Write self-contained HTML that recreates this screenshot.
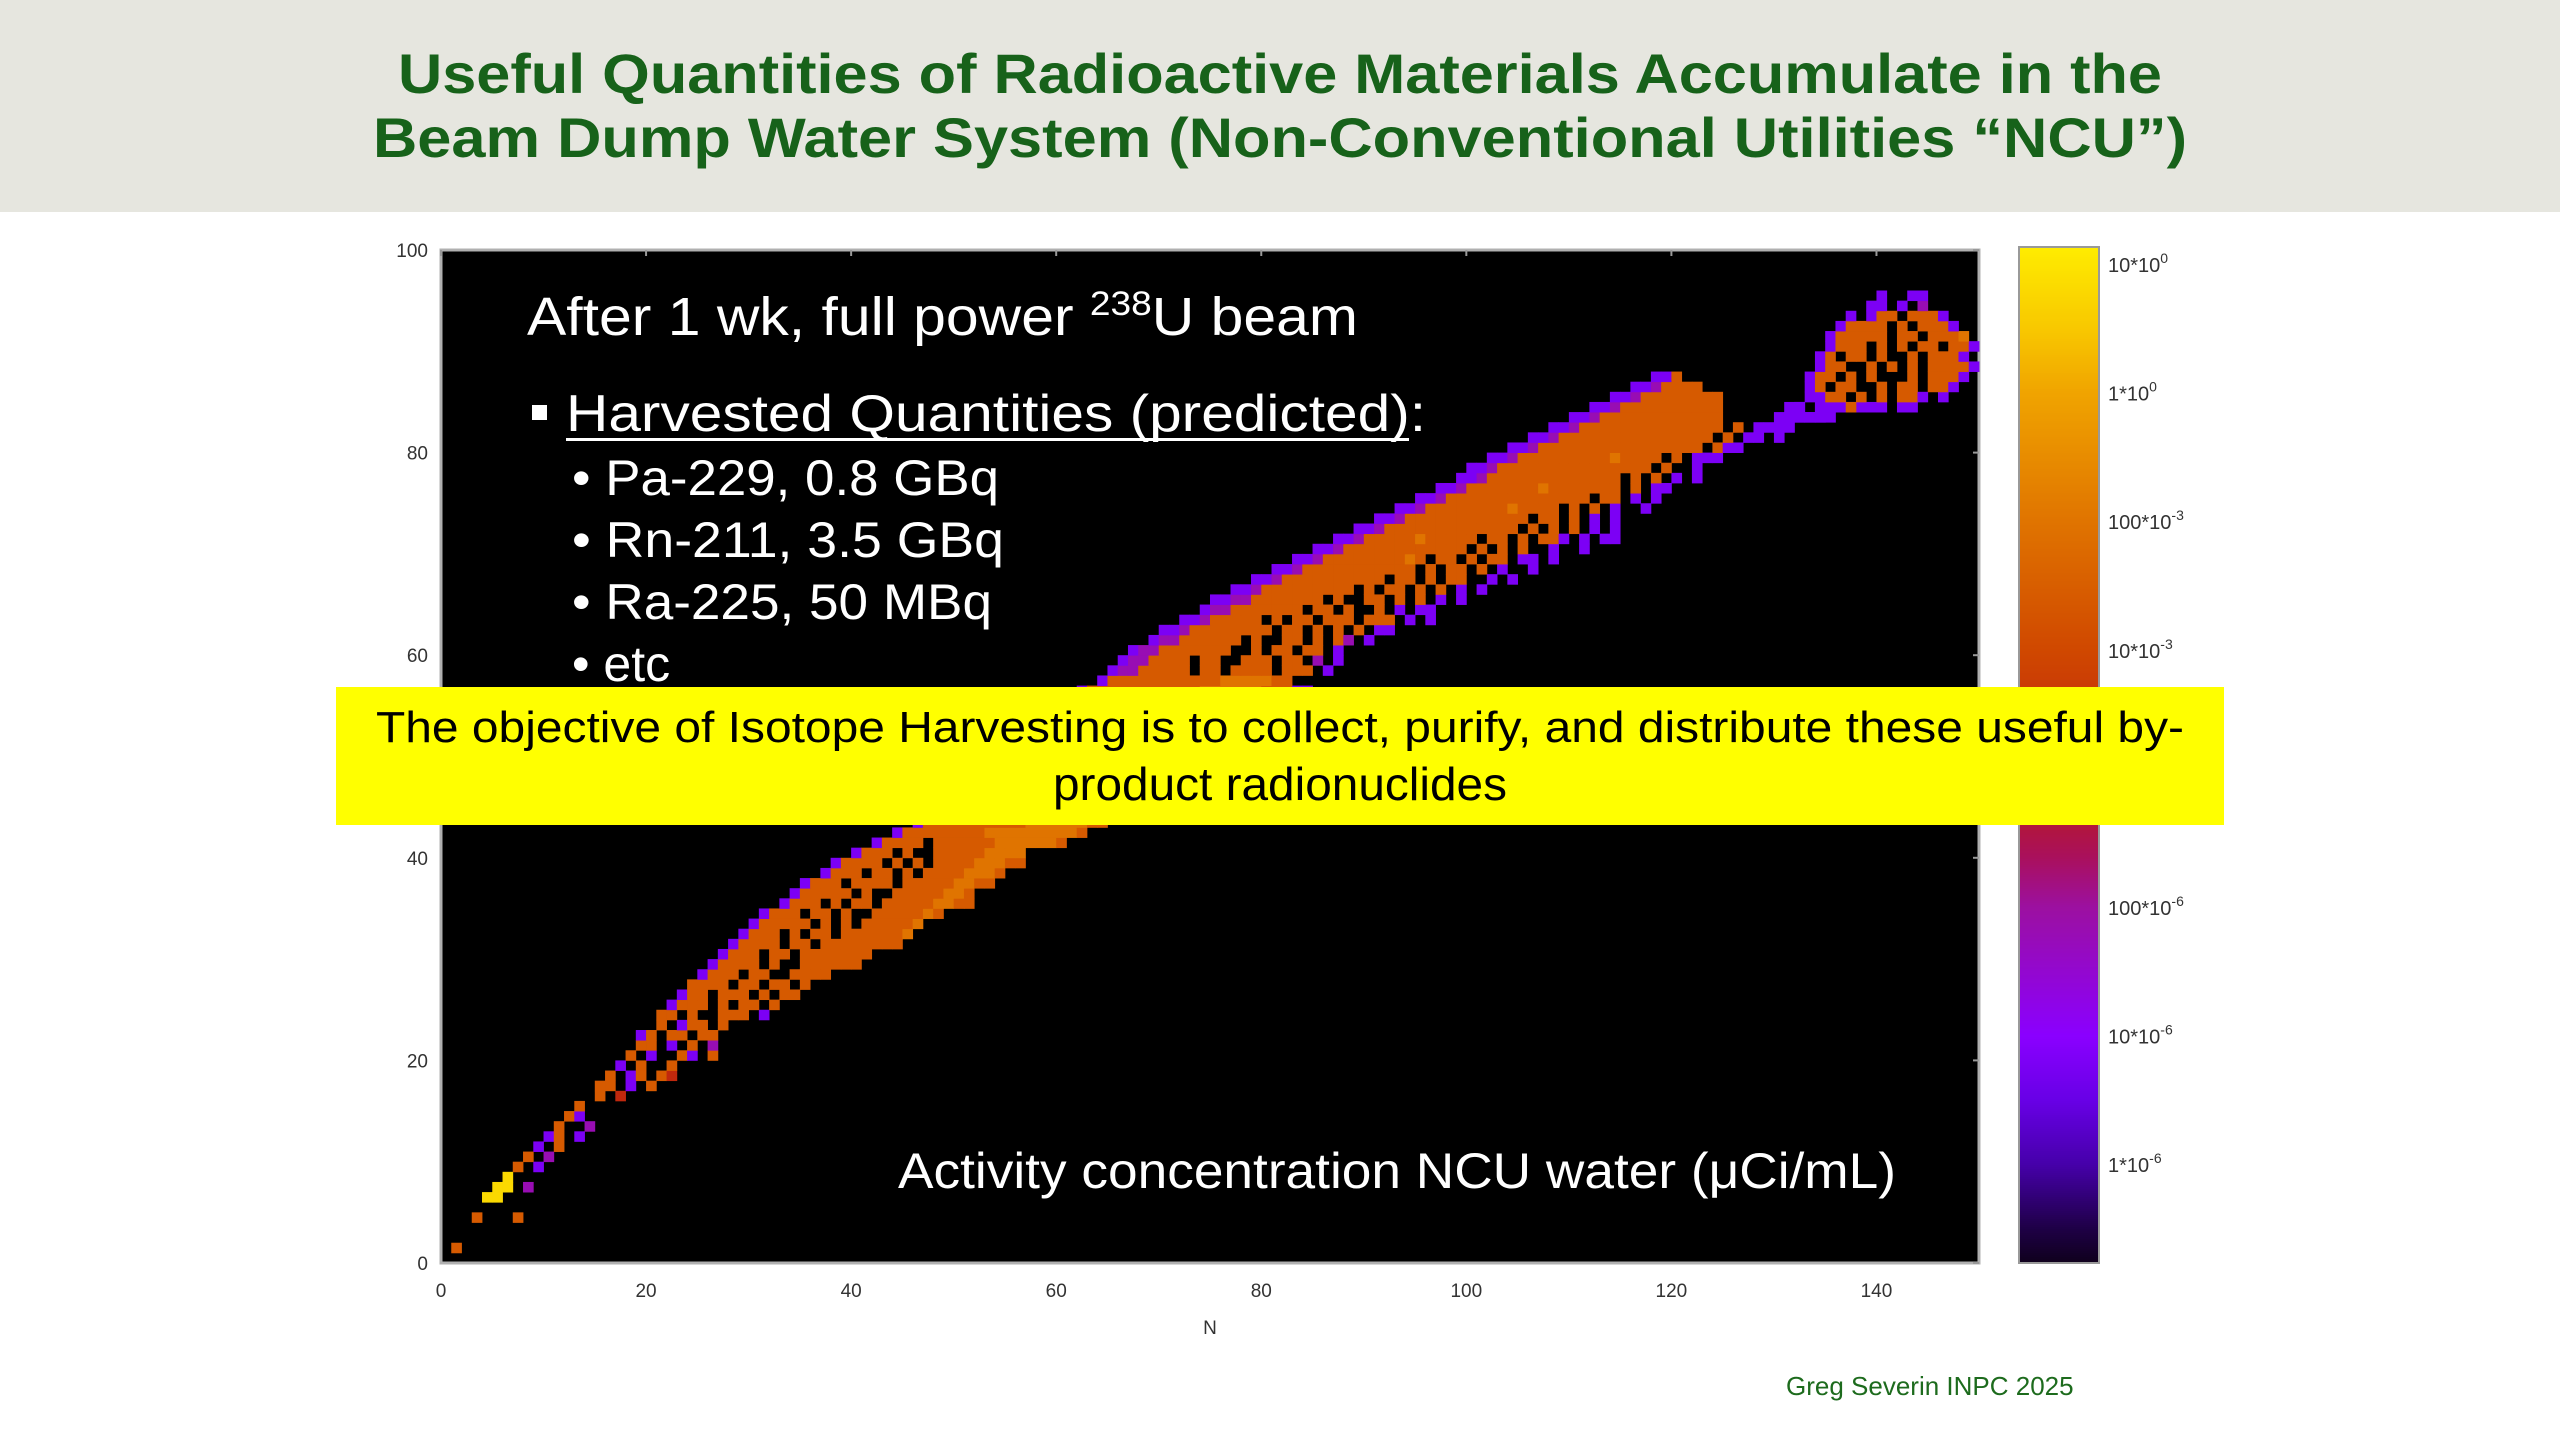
<!DOCTYPE html>
<html><head><meta charset="utf-8">
<style>
html,body{margin:0;padding:0;background:#fff;}
svg{display:block;}
text{font-family:"Liberation Sans",sans-serif;}
</style></head>
<body>
<svg id="chart" width="2560" height="1440" viewBox="0 0 2560 1440" xmlns="http://www.w3.org/2000/svg">
  <rect x="0" y="0" width="2560" height="212" fill="#e6e6df"/>
  <text x="1280" y="93" text-anchor="middle" font-weight="bold" font-size="56" fill="#17621a" textLength="1764" lengthAdjust="spacingAndGlyphs">Useful Quantities of Radioactive Materials Accumulate in the</text>
  <text x="1280" y="157" text-anchor="middle" font-weight="bold" font-size="56" fill="#17621a" textLength="1814" lengthAdjust="spacingAndGlyphs">Beam Dump Water System (Non-Conventional Utilities “NCU”)</text>
  <rect x="441" y="250" width="1538" height="1013" fill="#000" stroke="#b0b0b0" stroke-width="3"/>
  <g id="cells"></g>
  <g id="axes"></g>
  <g id="cbar"></g>
  <text x="1210" y="1334" text-anchor="middle" font-size="19" fill="#333">N</text>
  <g fill="#fff">
    <text x="527" y="335" font-size="54" textLength="831" lengthAdjust="spacingAndGlyphs">After 1 wk, full power <tspan font-size="34" dy="-20">238</tspan><tspan dy="20">U beam</tspan></text>
    <rect x="532" y="405" width="15" height="15" fill="#fff"/>
    <text x="566" y="431" font-size="52" textLength="860" lengthAdjust="spacingAndGlyphs">Harvested Quantities (predicted):</text>
    <rect x="566" y="438" width="843" height="3" fill="#fff"/>
    <text x="572" y="495" font-size="50" textLength="427" lengthAdjust="spacingAndGlyphs">• Pa-229, 0.8 GBq</text>
    <text x="572" y="557" font-size="50" textLength="432" lengthAdjust="spacingAndGlyphs">• Rn-211, 3.5 GBq</text>
    <text x="572" y="619" font-size="50" textLength="420" lengthAdjust="spacingAndGlyphs">• Ra-225, 50 MBq</text>
    <text x="572" y="681" font-size="50">• etc</text>
    <text x="898" y="1188" font-size="50" textLength="998" lengthAdjust="spacingAndGlyphs">Activity concentration NCU water (μCi/mL)</text>
  </g>
  <rect x="336" y="687" width="1888" height="138" fill="#ffff00"/>
  <text x="1280" y="742" text-anchor="middle" font-size="44" fill="#000" textLength="1808" lengthAdjust="spacingAndGlyphs">The objective of Isotope Harvesting is to collect, purify, and distribute these useful by-</text>
  <text x="1280" y="800" text-anchor="middle" font-size="46" fill="#000" textLength="454" lengthAdjust="spacingAndGlyphs">product radionuclides</text>
  <text x="1786" y="1395" font-size="26" fill="#1d6b1d">Greg Severin INPC 2025</text>
</svg>
<script>
// ---- data ----
const xTicks = [0,20,40,60,80,100,120,140];
const yTicks = [0,20,40,60,80,100];
const cbarTickLogs = [1,0,-1,-2,-3,-4,-5,-6];
const cbarTickMant = ["10","1","100","10","1","100","10","1"];
const cbarTickExp = ["0","0","-3","-3","-3","-6","-6","-6"];
// activity level digit -> log10(µCi/mL)
const levelLog = [null,-6,-5.2,-4.2,-2.8,-1.6,-1.0,0,0.8];
const rowZ = [1,4,6,7,8,9,10,11,12,13,14,15,16,17,18,19,20,21,22,23,24,25,26,27,28,29,30,31,32,33,34,35,36,37,38,39,40,41,42,
 43,44,45,46,47,48,49,50,51,52,53,54,55,56,57,
 58,59,60,61,62,63,64,65,66,67,68,69,70,71,72,73,74,75,76,77,78,79,80,81,82,83,84,85,86,87,
 83,84,85,86,87,88,89,90,91,92,93,94,95];
const rowStart = [1,3,4,5,6,7,8,9,10,11,12,13,15,15,16,17,18,18,19,20,21,22,23,24,25,26,27,28,29,30,31,33,34,35,37,38,40,42,44,
 46,47,48,50,51,52,54,55,56,58,59,60,61,62,64,
 65,66,67,69,70,72,74,75,77,79,81,83,85,87,89,91,93,95,97,99,100,102,104,106,108,110,112,114,116,118,
 131,132,133,133,133,134,134,135,135,136,137,139,140];
const rowPattern = ["5","5...5","88","88.3","8","5.2","5.3","2.5","25.2","5..3","52","5","5.4",
 "55.2.5","5.25.54","2.5..5","5.2..52.5",".55.2.5.3","25.55.55",".5.255.5","55.5..555.2","2555.5.55.5","255.555.5.55",
 "5555.55.55.5","2555.55..5555","25555.5..555555","2555.55.5555555","25555.55.55555555","2555.5.55.5555556",
 "255555.5.5.555556","2555.55.5..5555565","2555.5.55.555556655","255555.5..55555665","2555.5555.555556655",
 "2555.55.5.55556665","25555.5.5.555566655","2555.5..555556666","25555.5555556666665","2555555556666666665",
 "2555555555566666655","2555555555566666655","25555555555566666655","25555555555566666655","25555555555566666655",
 "255555555555666666555","255555555555666666555","255555555555666666555","2555555555556666665552","2555555555556666665552",
 "2555555555556666665552","25555555555566666655522","25555555555566666655522","25555555555566666655522","2555555555556666655",
 "23355555.55.5555.555.2","2335555.55..555.55.3.2","2335555555..5.55.55.2","233555555.5..55.5.53.2",
 "22355555555.55.5.5.5.22","22355555.5.55.555.555.2.2","2335555555.55.5..5.2.22","22335555555.5..55.5.5.2.2",
 "223555555555.5.55.5.5.2.2","2235555555555.55.5.55..2.2","22355555555555.5.55.5.2..2","2235555555565.55.5.55.22.2",
 "223555555555555.5.5.5..2..2","22355555655555.55.5.552.2.22","2235555555555555.5.5.5.2.2","223555555555555.55.5.2.2",
 "2235555555565555.5.5.2..2","22355555555555555.55.2.2","223555555565555555.5.22","2235555555555555.5.5.2.2",
 "223555555555555555.5..2","22355555555565555.5.222","2235555555555555555.522","223555555555555555.5.22.2",
 "22355555555555555.5.2222","223555555555555.....22222","2235555555555......22.2.222","22355555555","2235555","225",
 "22222","2.2225.22.22","2255.5.5.552.2","25.55..5.55.552","255.5.5...5.5552","255..5.5.5.55552",
 "25.55.5..5.5552","2555.5.5.55.552","255555.55.5556","25555.5.5552","2.255.5552","22.2.3","2..22"];

// ---- scales ----
const X0=441, X1=1979, Y0=1263, Y1=250;
const sx = n => X0 + n*(X1-X0)/150;
const sy = z => Y0 - z*(Y0-Y1)/100;
const CB_TOP=247, CB_BOT=1263;
const cy = l => 264 + (1-l)*128.6;
const stops = [[1.2,[255,240,0]],[0.5,[248,200,0]],[0,[240,164,0]],[-1,[224,116,0]],[-2,[208,72,0]],[-3,[188,32,16]],
 [-3.6,[170,16,90]],[-4,[156,16,160]],[-5,[138,0,255]],[-5.5,[104,0,230]],[-6,[70,0,170]],[-6.5,[30,0,70]],[-6.9,[8,0,8]]];
function cmap(l){
  if(l>=stops[0][0]) return rgb(stops[0][1]);
  for(let i=0;i<stops.length-1;i++){
    const a=stops[i],b=stops[i+1];
    if(l<=a[0]&&l>=b[0]){const t=(a[0]-l)/(a[0]-b[0]);return rgb(a[1].map((v,k)=>Math.round(v+(b[1][k]-v)*t)));}
  }
  return rgb(stops[stops.length-1][1]);
}
function rgb(c){return `rgb(${c[0]},${c[1]},${c[2]})`;}
const NS="http://www.w3.org/2000/svg";
function mk(tag,attrs,parent){const e=document.createElementNS(NS,tag);for(const k in attrs)e.setAttribute(k,attrs[k]);parent.appendChild(e);return e;}

// ---- cells ----
const cells=document.getElementById('cells');
for(let r=0;r<rowZ.length;r++){
  const z=rowZ[r], p=rowPattern[r];
  for(let i=0;i<p.length;i++){
    const ch=p[i]; if(ch==='.') continue;
    const n=rowStart[r]+i;
    const e=mk('rect',{x:sx(n).toFixed(2),y:sy(z+1).toFixed(2),width:(sx(n+1)-sx(n)+0.4).toFixed(2),height:(sy(z)-sy(z+1)+0.4).toFixed(2),fill:cmap(levelLog[+ch])},cells);
    
    
  }
}

// ---- axes ----
const axes=document.getElementById('axes');
xTicks.forEach(v=>{
  const t=mk('text',{x:sx(v),y:1297,'text-anchor':'middle','font-size':19,fill:'#333'},axes);t.textContent=v;
  
  
  const l=mk('line',{x1:sx(v),x2:sx(v),y1:Y1,y2:Y1+6,stroke:'#999','stroke-width':2},axes);
  
  
});
yTicks.forEach(v=>{
  const t=mk('text',{x:428,y:sy(v)+7,'text-anchor':'end','font-size':19,fill:'#333'},axes);t.textContent=v;
  
  
  const l=mk('line',{x1:X1-6,x2:X1,y1:sy(v),y2:sy(v),stroke:'#999','stroke-width':2},axes);
  
  
});

// ---- colorbar ----
const cb=document.getElementById('cbar');
for(let y=CB_TOP;y<CB_BOT;y+=2){
  const l=1-(y+1-264)/128.6;
  const s=mk('rect',{x:2019,y:y,width:80,height:2.5,fill:cmap(l)},cb);
  
  
}
const fr=mk('rect',{x:2019,y:CB_TOP,width:80,height:CB_BOT-CB_TOP,fill:'none',stroke:'#999','stroke-width':2},cb);


cbarTickLogs.forEach((l,i)=>{
  const t=mk('text',{x:2108,y:cy(l)+8,'font-size':20,fill:'#333','font-family':'"DejaVu Sans",sans-serif'},cb);
  
  
  const a=document.createElementNS(NS,'tspan');a.textContent=cbarTickMant[i]+'*10';t.appendChild(a);
  const b=document.createElementNS(NS,'tspan');b.setAttribute('dy','-9');b.setAttribute('font-size','14');b.textContent=cbarTickExp[i];t.appendChild(b);
});
</script>
</body></html>
